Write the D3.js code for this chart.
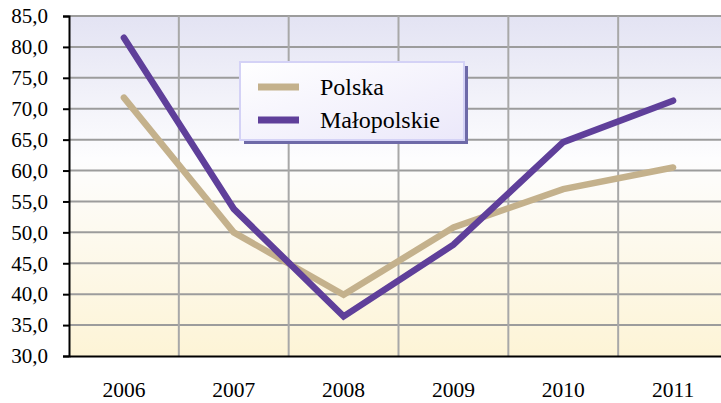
<!DOCTYPE html>
<html>
<head>
<meta charset="utf-8">
<script src="https://cdn.jsdelivr.net/npm/d3@7"></script>
<style>
  body { margin: 0; background: #fff; }
</style>
</head>
<body>
<div id="chart"></div>
<script>
var years = ["2006", "2007", "2008", "2009", "2010", "2011"];
var polska = [71.8, 50.0, 39.9, 50.8, 57.0, 60.5];
var malopolskie = [81.5, 53.8, 36.4, 48.0, 64.6, 71.3];
var yTicks = [30, 35, 40, 45, 50, 55, 60, 65, 70, 75, 80, 85];
var seriesNames = ["Polska", "Małopolskie"];
var seriesColors = ["#c4b18c", "#5f3f9a"];

var width = 721;
var height = 403;
var plotLeft = 69, plotTop = 16, plotBottom = 356, plotRight = 728;
var serif = "'Liberation Serif'";

var svg = d3.select("#chart").append("svg")
  .attr("width", width)
  .attr("height", height);

var defs = svg.append("defs");
var bg = defs.append("linearGradient").attr("id", "bg")
  .attr("x1", 0).attr("y1", 0).attr("x2", 0).attr("y2", 1);
bg.append("stop").attr("offset", "0%").attr("stop-color", "#e3e3f3");
bg.append("stop").attr("offset", "42%").attr("stop-color", "#fdfdfe");
bg.append("stop").attr("offset", "100%").attr("stop-color", "#fdf4d6");

var lg = defs.append("linearGradient").attr("id", "lg")
  .attr("x1", 0).attr("y1", 0).attr("x2", 1).attr("y2", 1);
lg.append("stop").attr("offset", "0%").attr("stop-color", "#ffffff");
lg.append("stop").attr("offset", "100%").attr("stop-color", "#ebe8fa");

var x = d3.scaleBand().domain(years).range([plotLeft, plotRight]);
var y = d3.scaleLinear().domain([30, 85]).range([plotBottom, plotTop]);

svg.append("rect")
  .attr("x", plotLeft).attr("y", plotTop)
  .attr("width", plotRight - plotLeft).attr("height", plotBottom - plotTop)
  .attr("fill", "url(#bg)");

// horizontal grid
svg.append("g")
  .selectAll("line")
  .data(yTicks.slice(1))
  .enter().append("line")
  .attr("x1", plotLeft).attr("x2", plotRight)
  .attr("y1", function(d) { return y(d); })
  .attr("y2", function(d) { return y(d); })
  .attr("stroke", "#9c9c9c")
  .attr("stroke-width", 2);

// vertical grid
svg.append("g")
  .selectAll("line")
  .data(years.slice(1))
  .enter().append("line")
  .attr("x1", function(d) { return x(d); })
  .attr("x2", function(d) { return x(d); })
  .attr("y1", plotTop).attr("y2", plotBottom)
  .attr("stroke", "#a8a8a8")
  .attr("stroke-width", 2);

var yAxis = d3.axisLeft(y)
  .tickValues(yTicks)
  .tickSize(6)
  .tickPadding(15)
  .tickFormat(function(d) { return d3.format(".1f")(d).replace(".", ","); });

var gy = svg.append("g")
  .attr("transform", "translate(" + plotLeft + ",0)")
  .call(yAxis)
  .attr("font-family", "Liberation Serif")
  .attr("font-size", 21);
gy.selectAll("line").attr("stroke", "#000").attr("stroke-width", 2);
gy.select(".domain").attr("stroke", "#000").attr("stroke-width", 2);
gy.selectAll("text")
  .style("font-family", serif)
  .style("font-size", "21px")
  .attr("fill", "#000");

var xAxis = d3.axisBottom(x).tickSize(0).tickPadding(26);
var gx = svg.append("g")
  .attr("transform", "translate(0," + plotBottom + ")")
  .call(xAxis)
  .attr("font-family", "Liberation Serif")
  .attr("font-size", 21.5);
gx.select(".domain").attr("stroke", "#000").attr("stroke-width", 2);
gx.selectAll("text")
  .style("font-family", serif)
  .style("font-size", "21.5px")
  .attr("fill", "#000");

var line = d3.line()
  .x(function(d, i) { return x(years[i]) + x.bandwidth() / 2; })
  .y(function(d) { return y(d); });

[polska, malopolskie].forEach(function(s, i) {
  svg.append("path")
    .datum(s)
    .attr("d", line)
    .attr("fill", "none")
    .attr("stroke", seriesColors[i])
    .attr("stroke-width", 6.5)
    .attr("stroke-linecap", "round")
    .attr("stroke-linejoin", "miter");
});

// legend
var legend = svg.append("g").attr("transform", "translate(240,62)");
legend.append("rect")
  .attr("x", 4).attr("y", 4).attr("width", 224).attr("height", 78)
  .attr("fill", "#6e6aa8");
legend.append("rect")
  .attr("x", 0).attr("y", 0).attr("width", 224).attr("height", 78)
  .attr("fill", "url(#lg)")
  .attr("stroke", "#d4d2f6")
  .attr("stroke-width", 2);

seriesNames.forEach(function(name, i) {
  var ly = 25 + i * 33;
  legend.append("line")
    .attr("x1", 18).attr("x2", 59)
    .attr("y1", ly).attr("y2", ly)
    .attr("stroke", seriesColors[i])
    .attr("stroke-width", 7);
  legend.append("text")
    .attr("x", 80).attr("y", ly + 8)
    .attr("font-family", "Liberation Serif")
    .style("font-family", serif)
    .style("font-size", "24px")
    .attr("fill", "#000")
    .text(name);
});
</script>
</body>
</html>
